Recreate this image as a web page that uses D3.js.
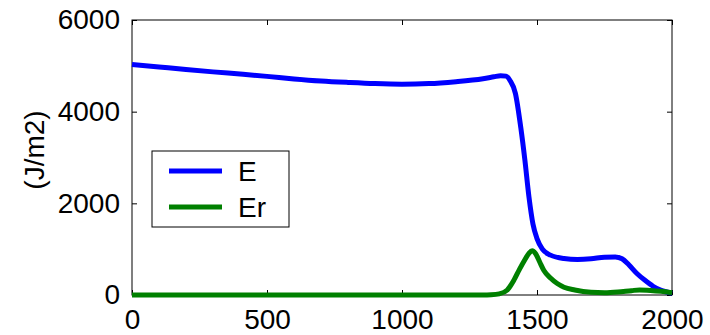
<!DOCTYPE html>
<html>
<head>
<meta charset="utf-8">
<script src="https://cdn.jsdelivr.net/npm/d3@7"></script>
<style>
  html, body { margin: 0; padding: 0; background: #fff; }
  svg { display: block; }
  text { font-family: "Liberation Sans", Arial, sans-serif; fill: #000; }
</style>
</head>
<body>
<svg id="chart" width="710" height="335"></svg>
<script>
// Energy profiles along the domain
const xE = [0, 100, 200, 300, 400, 500, 600, 700, 800, 900, 1000, 1100, 1200, 1300, 1340, 1365, 1385,
            1400, 1420, 1440, 1455, 1470, 1485, 1500, 1520, 1550, 1600, 1650, 1700, 1750, 1790, 1815,
            1840, 1870, 1900, 1930, 1960, 2000];
const valE = [5030, 4975, 4920, 4868, 4820, 4770, 4715, 4670, 4638, 4612, 4600, 4612, 4655, 4720, 4760, 4785, 4775,
              4680, 4400, 3650, 2950, 2150, 1550, 1230, 1000, 870, 795, 775, 790, 825, 830, 790,
              660, 470, 320, 190, 100, 40];

const xEr = [0, 500, 1000, 1300, 1330, 1360, 1390, 1415, 1435, 1455, 1470, 1482, 1495, 1510, 1525, 1550,
             1575, 1600, 1640, 1700, 1750, 1800, 1850, 1880, 1920, 1960, 2000];
const valEr = [0, 0, 0, 0, 5, 25, 110, 330, 560, 770, 910, 965, 900, 720, 540, 370,
               250, 170, 110, 60, 50, 65, 95, 110, 100, 80, 50];

const xTicks = [0, 500, 1000, 1500, 2000];
const yTicks = [0, 2000, 4000, 6000];
const seriesNames = ["E", "Er"];
const seriesColors = ["#0000ff", "#008000"];
const yLabel = "(J/m2)";

const svg = d3.select("#chart");
const plotLeft = 132, plotRight = 672, plotTop = 20, plotBottom = 295;

const x = d3.scaleLinear().domain([0, 2000]).range([plotLeft, plotRight]);
const y = d3.scaleLinear().domain([0, 6000]).range([plotBottom, plotTop]);

const fontSize = 28;
const tickLen = 5;
const fmt = d3.format("d");

// Axes: ticks inward on all four sides, labels on bottom/left
const axisBottom = d3.axisBottom(x).tickValues(xTicks).tickFormat(fmt).tickSizeInner(-tickLen).tickSizeOuter(0).tickPadding(14);
const axisLeft = d3.axisLeft(y).tickValues(yTicks).tickFormat(fmt).tickSizeInner(-tickLen).tickSizeOuter(0).tickPadding(12);
const axisTop = d3.axisTop(x).tickValues(xTicks).tickSizeInner(-tickLen).tickSizeOuter(0).tickFormat("");
const axisRight = d3.axisRight(y).tickValues(yTicks).tickSizeInner(-tickLen).tickSizeOuter(0).tickFormat("");

function styleAxis(g) {
  g.select(".domain").remove();
  g.selectAll(".tick line").attr("stroke", "#000").attr("stroke-width", 1);
  g.selectAll(".tick text").style("font-size", fontSize + "px")
    .style("font-family", '"Liberation Sans", Arial, sans-serif').attr("fill", "#000");
}

svg.append("g").attr("transform", `translate(0,${plotBottom})`).call(axisBottom).call(styleAxis);
svg.append("g").attr("transform", `translate(${plotLeft},0)`).call(axisLeft).call(styleAxis);
svg.append("g").attr("transform", `translate(0,${plotTop})`).call(axisTop).call(styleAxis);
svg.append("g").attr("transform", `translate(${plotRight},0)`).call(axisRight).call(styleAxis);

// Box around the plot area
svg.append("rect")
  .attr("x", plotLeft).attr("y", plotTop)
  .attr("width", plotRight - plotLeft).attr("height", plotBottom - plotTop)
  .attr("fill", "none").attr("stroke", "#000").attr("stroke-width", 1);

// Y axis label
svg.append("text")
  .attr("transform", `translate(44,150) rotate(-90)`)
  .attr("text-anchor", "middle")
  .style("font-size", fontSize + "px")
  .text(yLabel);

// Curves
const line = d3.line().x(d => x(d[0])).y(d => y(d[1])).curve(d3.curveMonotoneX);
const series = [
  d3.zip(xE, valE),
  d3.zip(xEr, valEr)
];
series.forEach((pts, i) => {
  svg.append("path")
    .datum(pts)
    .attr("d", line)
    .attr("fill", "none")
    .attr("stroke", seriesColors[i])
    .attr("stroke-width", 5)
    .attr("stroke-linejoin", "round");
});

// Legend
const lg = svg.append("g");
lg.append("rect")
  .attr("x", 152).attr("y", 151).attr("width", 137).attr("height", 76)
  .attr("fill", "#fff").attr("stroke", "#000").attr("stroke-width", 1);
seriesNames.forEach((name, i) => {
  const cy = 171 + i * 36;
  lg.append("line")
    .attr("x1", 169).attr("x2", 222).attr("y1", cy).attr("y2", cy)
    .attr("stroke", seriesColors[i]).attr("stroke-width", 5);
  lg.append("text")
    .attr("x", 238).attr("y", cy)
    .attr("dy", "0.35em")
    .style("font-size", fontSize + "px")
    .text(name);
});
</script>
</body>
</html>
